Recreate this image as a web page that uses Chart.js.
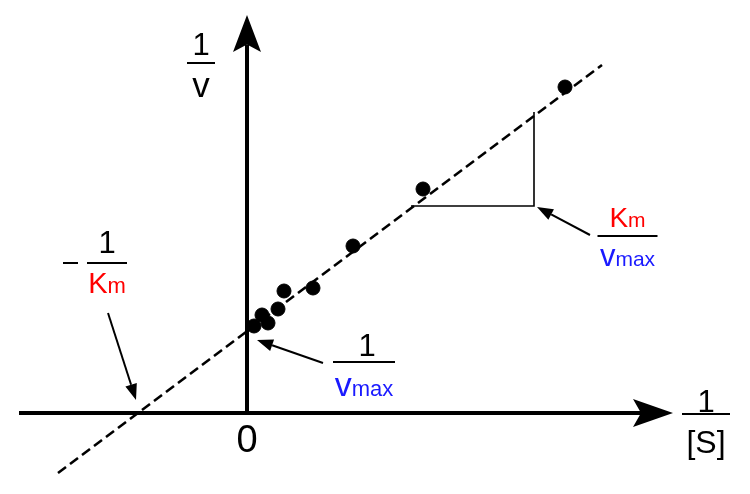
<!DOCTYPE html>
<html>
<head>
<meta charset="utf-8">
<script src="https://cdn.jsdelivr.net/npm/chart.js@4.4.0/dist/chart.umd.min.js"></script>
<style>
  html, body { margin: 0; padding: 0; background: #fff; }
  canvas { display: block; }
</style>
</head>
<body>
<canvas id="chart" width="750" height="494"></canvas>
<script>
// Lineweaver-Burk plot, arbitrary units
// measured points: 1/[S] and 1/v
const invS = [0.07, 0.15, 0.21, 0.31, 0.37, 0.66, 1.06, 1.76, 3.18];
const invV = [0.87, 0.98, 0.90, 1.04, 1.22, 1.25, 1.67, 2.24, 3.26];

// dashed best fit line (end points)
const fitX = [-1.89, 3.55];
const fitY = [-0.60, 3.48];

// slope triangle under the line
const triX = [1.64, 2.87, 2.87];
const triY = [2.07, 2.07, 3.01];

// label texts
const xLabel = ['1', '[S]'];
const yLabel = ['1', 'v'];
const originLabel = '0';
const kmParts = ['K', 'm'];
const vmaxParts = ['v', 'max'];

const RED = '#ff0000';
const BLUE = '#1a1aff';
const FONT = '"Liberation Sans", Arial, sans-serif';

function toPoints(xs, ys) {
    return xs.map((x, i) => ({ x: x, y: ys[i] }));
}

function arrow(ctx, x1, y1, x2, y2, lw, len, half, notch) {
    const a = Math.atan2(y2 - y1, x2 - x1);
    const c = Math.cos(a), s = Math.sin(a);
    const bx = x2 - len * c, by = y2 - len * s;
    const nx = x2 - len * (1 - notch) * c, ny = y2 - len * (1 - notch) * s;
    ctx.lineWidth = lw;
    ctx.beginPath();
    ctx.moveTo(x1, y1);
    ctx.lineTo(nx, ny);
    ctx.stroke();
    ctx.beginPath();
    ctx.moveTo(x2, y2);
    ctx.lineTo(bx + half * s, by - half * c);
    ctx.lineTo(nx, ny);
    ctx.lineTo(bx - half * s, by + half * c);
    ctx.closePath();
    ctx.fill();
}

// draws parts [[text, size, color], ...] centred on cx, on one baseline
function parts(ctx, list, cx, base) {
    let w = 0;
    list.forEach(p => { ctx.font = p[1] + 'px ' + FONT; w += ctx.measureText(p[0]).width; });
    let x = cx - w / 2;
    ctx.textAlign = 'left';
    ctx.textBaseline = 'alphabetic';
    list.forEach(p => {
        ctx.font = p[1] + 'px ' + FONT;
        ctx.fillStyle = p[2];
        ctx.fillText(p[0], x, base);
        x += ctx.measureText(p[0]).width;
    });
}

function bar(ctx, x1, x2, y) {
    ctx.fillStyle = '#000';
    ctx.fillRect(x1, y - 1, x2 - x1, 2);
}

const annotate = {
    id: 'annotate',
    beforeDatasetsDraw(chart) {
        const ctx = chart.ctx;
        const xs = chart.scales.x, ys = chart.scales.y;
        const P = (x, y) => [xs.getPixelForValue(x), ys.getPixelForValue(y)];
        ctx.save();
        ctx.strokeStyle = '#000';
        ctx.fillStyle = '#000';
        ctx.lineCap = 'butt';
        // axes with arrow heads
        let a = P(-2.28, 0), b = P(4.26, 0);
        arrow(ctx, a[0], a[1], b[0], b[1], 4, 40, 14, 0.2);
        a = P(0, 0); b = P(0, 3.98);
        arrow(ctx, a[0], a[1] + 2, b[0], b[1], 4, 37, 14, 0.2);
        ctx.restore();
    },
    afterDatasetsDraw(chart) {
        const ctx = chart.ctx;
        const xs = chart.scales.x, ys = chart.scales.y;
        const P = (x, y) => [xs.getPixelForValue(x), ys.getPixelForValue(y)];
        ctx.save();
        ctx.strokeStyle = '#000';
        ctx.fillStyle = '#000';

        // pointer arrows
        let a = P(-1.39, 1.00), b = P(-1.11, 0.13);
        arrow(ctx, a[0], a[1], b[0], b[1], 2, 16, 6, 0);
        a = P(0.76, 0.50); b = P(0.10, 0.73);
        arrow(ctx, a[0], a[1], b[0], b[1], 2, 16, 6, 0);
        a = P(3.43, 1.78); b = P(2.90, 2.06);
        arrow(ctx, a[0], a[1], b[0], b[1], 2, 16, 6, 0);

        // origin
        let o = P(0, 0);
        parts(ctx, [[originLabel, 38, '#000']], o[0], o[1] + 39);

        // y axis label 1/v
        let c = P(-0.46, 3.50);
        bar(ctx, c[0] - 14, c[0] + 14, c[1]);
        parts(ctx, [[yLabel[0], 31, '#000']], c[0], c[1] - 8);
        parts(ctx, [[yLabel[1], 35, '#000']], c[0], c[1] + 34);

        // x axis label 1/[S]
        c = P(4.59, -0.01);
        bar(ctx, c[0] - 24, c[0] + 24, c[1]);
        parts(ctx, [[xLabel[0], 31, '#000']], c[0], c[1] - 2);
        parts(ctx, [[xLabel[1], 32, '#000']], c[0], c[1] + 39);

        // -1/Km
        c = P(-1.40, 1.50);
        bar(ctx, c[0] - 20, c[0] + 20, c[1]);
        bar(ctx, c[0] - 44, c[0] - 29, c[1]);
        parts(ctx, [[xLabel[0], 31, '#000']], c[0], c[1] - 10);
        parts(ctx, [[kmParts[0], 29, RED], [kmParts[1], 22, RED]], c[0], c[1] + 30);

        // 1/vmax
        c = P(1.17, 0.51);
        bar(ctx, c[0] - 31, c[0] + 31, c[1]);
        parts(ctx, [[xLabel[0], 31, '#000']], c[0] + 3, c[1] - 6);
        parts(ctx, [[vmaxParts[0], 34, BLUE], [vmaxParts[1], 22, BLUE]], c[0], c[1] + 34);

        // Km/vmax
        c = P(3.805, 1.77);
        bar(ctx, c[0] - 30, c[0] + 30, c[1]);
        parts(ctx, [[kmParts[0], 28, RED], [kmParts[1], 21, RED]], c[0], c[1] - 9);
        parts(ctx, [[vmaxParts[0], 31, BLUE], [vmaxParts[1], 21, BLUE]], c[0], c[1] + 30);

        ctx.restore();
    }
};

new Chart(document.getElementById('chart'), {
    type: 'scatter',
    data: {
        datasets: [
            {
                type: 'line',
                data: toPoints(fitX, fitY),
                borderColor: '#000',
                borderWidth: 2.6,
                borderDash: [10, 5],
                pointRadius: 0,
                fill: false
            },
            {
                type: 'line',
                data: toPoints(triX, triY),
                borderColor: '#000',
                borderWidth: 1.6,
                pointRadius: 0,
                fill: false
            },
            {
                data: toPoints(invS, invV),
                backgroundColor: '#000',
                borderColor: '#000',
                pointRadius: 7,
                pointHoverRadius: 7
            }
        ]
    },
    options: {
        responsive: false,
        animation: false,
        events: [],
        layout: { padding: 0, autoPadding: false },
        plugins: { legend: { display: false }, tooltip: { enabled: false } },
        scales: {
            x: { type: 'linear', min: -2.47, max: 5.03, display: false },
            y: { type: 'linear', min: -0.81, max: 4.13, display: false }
        }
    },
    plugins: [annotate]
});
</script>
</body>
</html>
